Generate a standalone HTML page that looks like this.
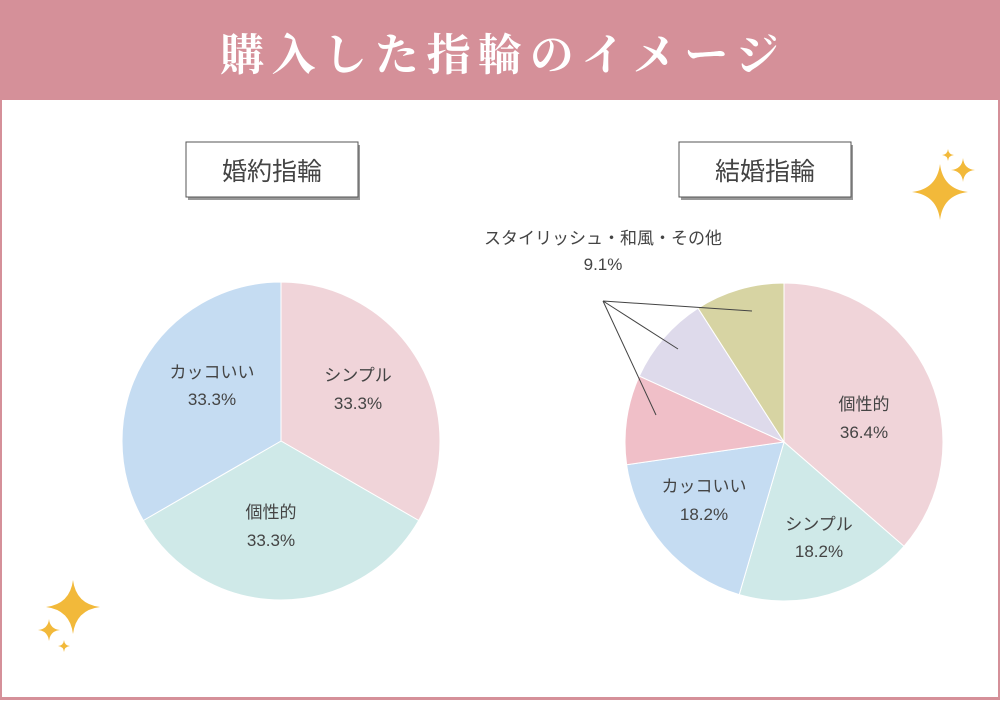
<!DOCTYPE html><html><head><meta charset="utf-8"><style>
body{margin:0;width:1000px;height:700px;overflow:hidden;background:#fff;font-family:"Liberation Sans","Noto Sans CJK JP",sans-serif}
</style></head><body>
<svg width="1000" height="700" viewBox="0 0 1000 700" xmlns="http://www.w3.org/2000/svg">
<rect x="0" y="0" width="1000" height="700" fill="#d59099"/>
<rect x="2" y="100" width="996" height="597" fill="#fff"/>
<text x="220" y="70" textLength="559" lengthAdjust="spacing" font-family="'Noto Serif CJK SC','Liberation Serif',serif" font-weight="bold" font-size="44" fill="#fff">購入した指輪のイメージ</text>
<rect x="188" y="145" width="172" height="55" fill="#999"/>
<rect x="186" y="142" width="172" height="55" fill="#fff" stroke="#555" stroke-width="1"/>
<text x="272" y="180" text-anchor="middle" font-size="25" fill="#444">婚約指輪</text>
<rect x="681" y="145" width="172" height="55" fill="#999"/>
<rect x="679" y="142" width="172" height="55" fill="#fff" stroke="#555" stroke-width="1"/>
<text x="765" y="180" text-anchor="middle" font-size="25" fill="#444">結婚指輪</text>
<g stroke="#fff" stroke-width="1">
<path d="M281 441 L281 282 A159 159 0 0 1 418.7 520.5 Z" fill="#f0d4d9"/>
<path d="M281 441 L418.7 520.5 A159 159 0 0 1 143.3 520.5 Z" fill="#cfe9e8"/>
<path d="M281 441 L143.3 520.5 A159 159 0 0 1 281 282 Z" fill="#c5dcf2"/>
<path d="M784 442 L784 283 A159 159 0 0 1 904 546.3 Z" fill="#f0d4d9"/>
<path d="M784 442 L904 546.3 A159 159 0 0 1 739.2 594.6 Z" fill="#cfe9e8"/>
<path d="M784 442 L739.2 594.6 A159 159 0 0 1 626.6 464.7 Z" fill="#c5dcf2"/>
<path d="M784 442 L626.6 464.7 A159 159 0 0 1 639.3 376.1 Z" fill="#f0bfc8"/>
<path d="M784 442 L639.3 376.1 A159 159 0 0 1 698 308.2 Z" fill="#dedaeb"/>
<path d="M784 442 L698 308.2 A159 159 0 0 1 784 283 Z" fill="#d7d4a3"/>
</g>
<g stroke="#444" stroke-width="1" fill="none">
<path d="M603 301 L752 311 M603 301 L678 349 M603 301 L656 415"/>
</g>
<g font-size="17" fill="#444" text-anchor="middle">
<text x="358" y="381">シンプル</text><text x="358" y="409">33.3%</text>
<text x="212" y="378">カッコいい</text><text x="212" y="405">33.3%</text>
<text x="271" y="518">個性的</text><text x="271" y="546">33.3%</text>
<text x="864" y="410">個性的</text><text x="864" y="438">36.4%</text>
<text x="819" y="530">シンプル</text><text x="819" y="557">18.2%</text>
<text x="704" y="492">カッコいい</text><text x="704" y="520">18.2%</text>
<text x="603" y="244">スタイリッシュ・和風・その他</text><text x="603" y="270">9.1%</text>
</g>
<g fill="#f2b93a">
<path d="M940 164 Q943 189 968 192 Q943 195 940 220 Q937 195 912 192 Q937 189 940 164Z"/>
<path d="M963 158 Q964 169 975 170 Q964 171 963 182 Q962 171 951 170 Q962 169 963 158Z"/>
<path d="M948 149 Q948.5 154.5 954 155 Q948.5 155.5 948 161 Q947.5 155.5 942 155 Q947.5 154.5 948 149Z"/>
<path d="M73 580 Q76 604 100 607 Q76 610 73 634 Q70 610 46 607 Q70 604 73 580Z"/>
<path d="M49 619 Q50 629 60 630 Q50 631 49 641 Q48 631 38 630 Q48 629 49 619Z"/>
<path d="M64 640 Q64.5 645.5 70 646 Q64.5 646.5 64 652 Q63.5 646.5 58 646 Q63.5 645.5 64 640Z"/>
</g>
</svg>
</body></html>
